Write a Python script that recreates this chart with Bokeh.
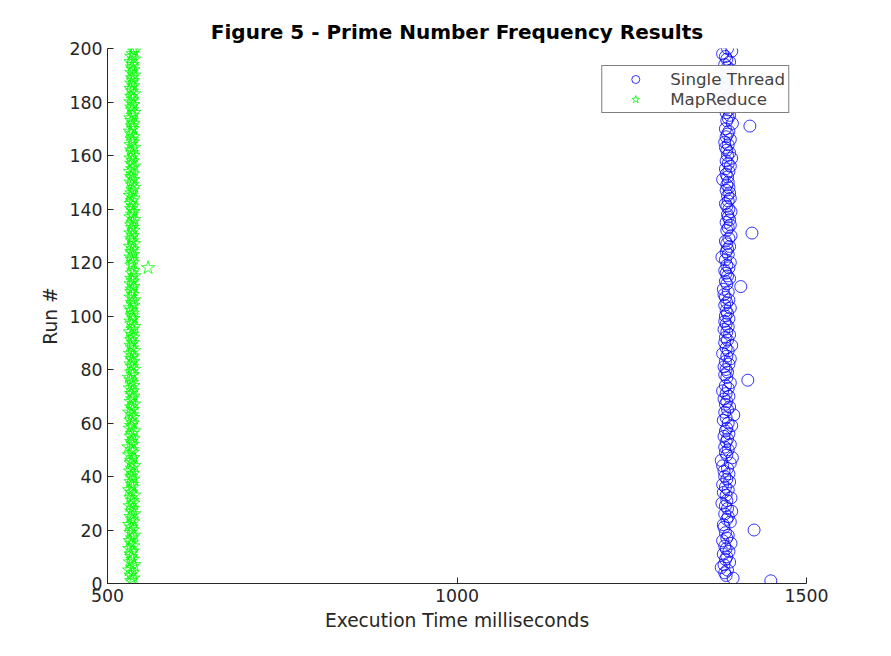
from bokeh.plotting import figure
from bokeh.models import Range1d, FixedTicker, Legend, LegendItem
from bokeh.embed import file_html
from bokeh.resources import INLINE

runs = list(range(1, 201))
single_thread = [
1449,1395,1385,1383,1387,1378,1382,1390,1384,1386,
1381,1389,1385,1383,1392,1380,1386,1388,1384,1425,
1382,1381,1391,1386,1388,1383,1393,1387,1384,1379,
1386,1392,1385,1381,1388,1384,1380,1390,1386,1383,
1389,1382,1387,1380,1391,1378,1394,1386,1384,1388,
1383,1391,1385,1387,1382,1389,1384,1386,1393,1388,
1381,1385,1396,1383,1387,1390,1384,1386,1382,1389,
1385,1380,1388,1384,1391,1416,1386,1383,1387,1385,
1382,1389,1384,1391,1386,1380,1388,1385,1393,1383,
1387,1384,1390,1386,1382,1388,1385,1383,1389,1384,
1387,1385,1391,1383,1386,1389,1384,1382,1388,1381,
1406,1386,1384,1390,1387,1385,1383,1389,1386,1391,
1384,1379,1388,1385,1387,1390,1386,1384,1389,1392,
1422,1386,1388,1391,1385,1390,1388,1387,1392,1389,
1386,1384,1388,1391,1387,1390,1385,1389,1386,1388,
1380,1387,1385,1389,1384,1391,1388,1385,1393,1387,
1390,1386,1384,1388,1383,1391,1385,1387,1389,1384,
1419,1394,1386,1388,1390,1385,1389,1387,1384,1391,
1386,1388,1392,1387,1385,1389,1384,1390,1386,1388,
1385,1392,1387,1383,1390,1386,1384,1380,1393,1387]
map_reduce = [
534,537,533,536,531,535,538,532,536,534,
533,536,531,537,534,532,535,538,533,536,
534,531,537,535,533,538,534,536,532,537,
535,533,538,534,531,536,535,533,537,534,
536,532,535,538,533,534,537,531,536,535,
530,536,534,537,533,535,538,532,534,536,
533,537,535,531,536,534,538,533,535,537,
534,536,532,537,535,533,531,536,534,538,
535,533,537,534,536,532,538,535,533,536,
534,537,535,532,536,538,534,533,537,535,
536,534,532,537,535,538,533,536,534,535,
537,533,536,534,538,535,537,558,534,536,
535,533,537,534,536,532,538,535,534,536,
533,537,535,534,536,538,533,535,537,534,
536,533,535,537,532,534,536,538,535,533,
537,534,536,532,535,538,534,536,533,537,
535,534,538,533,536,535,537,534,532,536,
535,537,534,533,536,538,535,534,537,533,
536,534,538,535,533,537,534,536,535,538,
534,537,535,536,533,538,534,536,538,537]

p = figure(width=875, height=640, output_backend="svg", toolbar_location=None,
           x_range=Range1d(500, 1500), y_range=Range1d(0, 200),
           title="Figure 5 - Prime Number Frequency Results",
           min_border_left=107, min_border_right=69, min_border_top=48, min_border_bottom=57)
p.background_fill_color = "white"
p.border_fill_color = "white"
p.outline_line_color = None
p.grid.visible = False
p.title.align = "center"
p.title.text_font = "DejaVu Sans"
p.title.text_font_size = "15pt"
p.title.text_font_style = "bold"
p.title.text_color = "black"

p.xaxis.ticker = FixedTicker(ticks=[500, 1000, 1500])
p.yaxis.ticker = FixedTicker(ticks=list(range(0, 201, 20)))
p.xaxis.axis_label = "Execution Time milliseconds"
p.yaxis.axis_label = "Run #"
for ax in (p.xaxis[0], p.yaxis[0]):
    ax.major_tick_in = 6
    ax.major_tick_out = 0
    ax.minor_tick_line_color = None
    ax.major_label_text_font = "DejaVu Sans"
    ax.major_label_text_font_size = "13pt"
    ax.major_label_text_color = "#262626"
    ax.axis_label_text_font = "DejaVu Sans"
    ax.axis_label_text_font_size = "14pt"
    ax.axis_label_text_font_style = "normal"
    ax.axis_label_text_color = "#262626"
    ax.axis_line_color = "#262626"
    ax.major_tick_line_color = "#262626"

r1 = p.scatter(single_thread, runs, marker="circle", size=12, fill_color=None, line_color="blue", line_width=0.8)
r2 = p.scatter(map_reduce, runs, marker="star", size=14, fill_color=None, line_color="#00ff00", line_width=0.8)

legend = Legend(items=[LegendItem(label="Single Thread", renderers=[r1]),
                       LegendItem(label="MapReduce", renderers=[r2])],
                location="top_right", border_line_color="black", label_text_font="DejaVu Sans",
                label_text_font_size="12.5pt", spacing=0, padding=3, margin=17, glyph_width=60)
p.add_layout(legend)

open("out.html", "w").write(file_html(p, INLINE))
